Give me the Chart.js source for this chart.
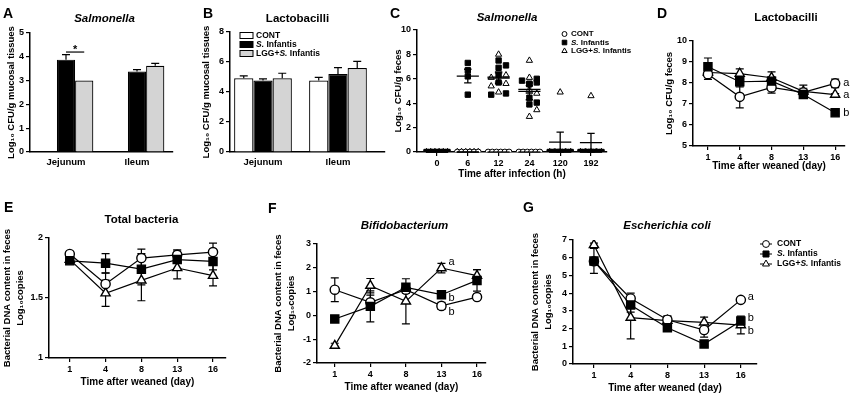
<!DOCTYPE html>
<html>
<head>
<meta charset="utf-8">
<title>LGG and S. Infantis - bacterial counts</title>
<script src="https://cdn.jsdelivr.net/npm/chart.js"></script>
<style>
  body { margin: 0; background: #fff; }
  #fig { position: relative; width: 853px; height: 396px; overflow: hidden; background: #fff; }
  #fig canvas { position: absolute; }
  .tag { position: absolute; font: bold 14px 'Liberation Sans', Arial, sans-serif; line-height: 14px; color: #000; }
</style>
</head>
<body>
<div id="fig">
  <canvas id="chartA"></canvas>
  <canvas id="chartB"></canvas>
  <canvas id="chartC"></canvas>
  <canvas id="chartD"></canvas>
  <canvas id="chartE"></canvas>
  <canvas id="chartF"></canvas>
  <canvas id="chartG"></canvas>
  <div class="tag" style="left:3px;top:6px">A</div>
  <div class="tag" style="left:203px;top:6px">B</div>
  <div class="tag" style="left:390px;top:6px">C</div>
  <div class="tag" style="left:657px;top:6px">D</div>
  <div class="tag" style="left:4px;top:200px">E</div>
  <div class="tag" style="left:268px;top:201px">F</div>
  <div class="tag" style="left:523px;top:200px">G</div>
</div>
<script>
const FAM = "'Liberation Sans', Arial, Helvetica, sans-serif";

// groups (same order in every panel)
const groupNames = ['CONT', 'S. Infantis', 'LGG+S. Infantis'];
const daysLabels = ['1', '4', '8', '13', '16'];

// A - Salmonella in mucosal tissues (log10 CFU/g)
const sitesLabels = ['Jejunum', 'Ileum'];
const salmContA = [0, 0];
const salmInfA = [3.88, 3.38];
const salmLggA = [3.0, 3.62];
const salmContErrA = [0, 0];
const salmInfErrA = [0.21, 0.08];
const salmLggErrA = [0, 0.1];

// B - Lactobacilli in mucosal tissues
const lactContB = [4.92, 4.76];
const lactInfB = [4.76, 5.2];
const lactLggB = [4.92, 5.6];
const lactContErrB = [0.15, 0.22];
const lactInfErrB = [0.12, 0.43];
const lactLggErrB = [0.33, 0.44];

// C - Salmonella in feces, one value per piglet
const hoursLabels = ['0', '6', '12', '24', '120', '192'];
const salmContC = [
  [0, 0, 0, 0, 0, 0], [0, 0, 0, 0, 0, 0], [0, 0, 0, 0, 0, 0],
  [0, 0, 0, 0, 0, 0], [0, 0, 0, 0, 0, 0], [0, 0, 0, 0, 0, 0]
];
const salmInfC = [
  [0, 0, 0, 0, 0, 0],
  [7.3, 6.7, 6.2, 4.7],
  [7.5, 7.1, 6.9, 6.3, 5.7, 4.8, 4.7],
  [6.0, 5.85, 5.7, 5.6, 5.55, 4.45, 4.05, 3.9],
  [0, 0, 0, 0, 0, 0],
  [0, 0, 0, 0, 0, 0]
];
const salmLggC = [
  [0, 0, 0, 0, 0, 0],
  [0, 0, 0, 0, 0, 0],
  [8.0, 6.3, 6.1, 5.6, 5.4, 4.9],
  [7.5, 6.1, 5.1, 4.8, 3.45, 2.9],
  [4.9, 0, 0, 0, 0, 0],
  [4.6, 0, 0, 0, 0, 0]
];

// D - Lactobacilli in feces
const lactContD = [8.42, 7.34, 7.79, 7.55, 7.98];
const lactInfD = [8.77, 8.06, 8.09, 7.45, 6.58];
const lactLggD = [8.5, 8.45, 8.25, 7.6, 7.45];
const lactContErrD = [0.25, 0.52, 0.27, 0.2, 0.2];
const lactInfErrD = [0.42, 0.25, 0.2, 0.15, 0.05];
const lactLggErrD = [0.2, 0.22, 0.28, 0.3, 0.05];
const lettersD = ['a', 'b', 'a'];

// E - total bacteria
const totContE = [1.867, 1.617, 1.833, 1.86, 1.883];
const totInfE = [1.81, 1.79, 1.74, 1.82, 1.805];
const totLggE = [1.82, 1.54, 1.647, 1.75, 1.686];
const totContErrE = [0.02, 0.09, 0.075, 0.04, 0.075];
const totInfErrE = [0.02, 0.08, 0.13, 0.08, 0.07];
const totLggErrE = [0.02, 0.11, 0.17, 0.09, 0.085];

// F - Bifidobacterium
const bifContF = [1.08, 0.55, 1.08, 0.4, 0.77];
const bifInfF = [-0.15, 0.38, 1.18, 0.87, 1.47];
const bifLggF = [-1.27, 1.25, 0.59, 1.99, 1.67];
const bifContErrF = [0.5, 0.3, 0.15, 0.15, 0.1];
const bifInfErrF = [0.1, 0.65, 0.15, 0.1, 0.45];
const bifLggErrF = [0.1, 0.3, 0.95, 0.2, 0.25];
const lettersF = ['b', 'b', 'a'];

// G - Escherichia coli
const coliContG = [5.8, 3.7, 2.5, 1.92, 3.62];
const coliInfG = [5.82, 3.33, 2.05, 1.13, 2.43];
const coliLggG = [6.72, 2.62, 2.45, 2.35, 2.2];
const coliContErrG = [0.2, 0.3, 0.2, 0.4, 0.1];
const coliInfErrG = [0.7, 0.4, 0.2, 0.15, 0.2];
const coliLggErrG = [0.1, 1.2, 0.25, 0.3, 0.5];
const lettersG = ['a', 'b', 'b'];

// ---------- helpers ----------
const xy = vals => vals.map((v, i) => ({x: i, y: v}));
const BAR_FILL = ['#ffffff', '#000000', '#d4d4d4'];
const PT = [
  {style: 'circle', r: 4.6, fill: '#fff', order: 1},
  {style: 'rect', r: 5.7, fill: '#000', order: 0},
  {style: 'triangle', r: 5.3, fill: '#fff', order: 2}
];

function richText(ctx, text, x, y, size) {
  text.split(/(S\.)/).filter(Boolean).forEach(seg => {
    ctx.font = (seg === 'S.' ? 'italic ' : '') + 'bold ' + size + 'px ' + FAM;
    ctx.fillText(seg, x, y);
    x += ctx.measureText(seg).width;
  });
}

// panel title
const panelTitle = {
  id: 'panelTitle',
  afterDraw(chart, args, o) {
    if (!o.text) return;
    const {ctx, chartArea: a} = chart;
    ctx.save();
    ctx.font = (o.italic ? 'italic ' : '') + 'bold 11.5px ' + FAM;
    ctx.fillStyle = '#000';
    ctx.textAlign = 'center';
    ctx.textBaseline = 'middle';
    ctx.fillText(o.text, (a.left + a.right) / 2 + (o.dx || 0), o.y);
    ctx.restore();
  }
};

// legend with italic "S."
const keyBox = {
  id: 'keyBox',
  afterDraw(chart, args, o) {
    if (!o.kind) return;
    const ctx = chart.ctx;
    ctx.save();
    chart.data.datasets.forEach((ds, i) => {
      const y = o.y + i * o.gap;
      ctx.strokeStyle = '#000';
      ctx.lineWidth = 1;
      if (o.kind === 'box') {
        ctx.fillStyle = ds.backgroundColor;
        ctx.fillRect(o.x, y - 3, 13, 6);
        ctx.strokeRect(o.x, y - 3, 13, 6);
      } else {
        if (o.kind === 'line') {
          ctx.beginPath(); ctx.moveTo(o.x - 6, y); ctx.lineTo(o.x + 6, y); ctx.stroke();
        }
        ctx.fillStyle = ds.pointBackgroundColor;
        Chart.helpers.drawPoint(ctx, {pointStyle: ds.pointStyle, radius: ds.pointRadius * o.rScale, borderWidth: 1}, o.x, y);
      }
      ctx.fillStyle = '#000';
      ctx.textAlign = 'left';
      ctx.textBaseline = 'middle';
      richText(ctx, ds.label, o.x + o.textDx, y, o.size);
    });
    ctx.restore();
  }
};

// SEM bars from dataset.err
function drawErr(chart, o) {
  const {ctx} = chart;
  const ys = chart.scales.y;
  ctx.save();
  ctx.strokeStyle = '#000';
  ctx.lineWidth = 1.2;
  chart.data.datasets.forEach((ds, di) => {
    if (!ds.err) return;
    chart.getDatasetMeta(di).data.forEach((el, i) => {
      const v = ds.data[i].y, e = ds.err[i];
      if (!e) return;
      const top = ys.getPixelForValue(v + e);
      const bot = o.up ? el.y : ys.getPixelForValue(v - e);
      ctx.beginPath();
      ctx.moveTo(el.x, top); ctx.lineTo(el.x, bot);
      ctx.moveTo(el.x - 4, top); ctx.lineTo(el.x + 4, top);
      if (!o.up) { ctx.moveTo(el.x - 4, bot); ctx.lineTo(el.x + 4, bot); }
      ctx.stroke();
    });
  });
  ctx.restore();
}
const errorBars = {
  id: 'errorBars',
  beforeDatasetsDraw(chart, args, o) { if (o.on && !o.up) drawErr(chart, o); },
  afterDatasetsDraw(chart, args, o) { if (o.on && o.up) drawErr(chart, o); }
};

// mean +/- SEM for dot plot (C)
const meanLines = {
  id: 'meanLines',
  afterDatasetsDraw(chart, args, o) {
    if (!o.on) return;
    const {ctx} = chart, xs = chart.scales.x, ys = chart.scales.y;
    ctx.save();
    ctx.strokeStyle = '#000';
    ctx.lineWidth = 1.3;
    chart.data.datasets.forEach(ds => {
      if (!ds.groups) return;
      ds.groups.forEach((vals, t) => {
        const n = vals.length;
        const m = vals.reduce((s, v) => s + v, 0) / n;
        const sd = Math.sqrt(vals.reduce((s, v) => s + (v - m) * (v - m), 0) / (n - 1));
        const sem = sd / Math.sqrt(n);
        const ym = ys.getPixelForValue(m), yt = ys.getPixelForValue(m + sem), yb = ys.getPixelForValue(m - sem);
        const xc = xs.getPixelForValue(t);
        ctx.beginPath();
        ctx.moveTo(xs.getPixelForValue(t - 0.36), ym); ctx.lineTo(xs.getPixelForValue(t + 0.36), ym);
        if (sem > 0) {
          const cw = xs.getPixelForValue(t + 0.12) - xc;
          ctx.moveTo(xc, yt); ctx.lineTo(xc, yb);
          ctx.moveTo(xc - cw, yt); ctx.lineTo(xc + cw, yt);
          ctx.moveTo(xc - cw, yb); ctx.lineTo(xc + cw, yb);
        }
        ctx.stroke();
      });
    });
    ctx.restore();
  }
};

// a / b significance letters
const sigLetters = {
  id: 'sigLetters',
  afterDatasetsDraw(chart, args, o) {
    if (o.index === undefined) return;
    const ctx = chart.ctx;
    ctx.save();
    ctx.font = '11px ' + FAM;
    ctx.fillStyle = '#000';
    ctx.textAlign = 'left';
    ctx.textBaseline = 'middle';
    chart.data.datasets.forEach((ds, di) => {
      if (!ds.letter) return;
      const el = chart.getDatasetMeta(di).data[o.index];
      ctx.fillText(ds.letter, el.x + o.dx, el.y + (o.dy ? o.dy[di] : 0));
    });
    ctx.restore();
  }
};

// significance bracket (A)
const bracket = {
  id: 'bracket',
  afterDatasetsDraw(chart, args, o) {
    if (!o.mark) return;
    const ctx = chart.ctx;
    const x1 = chart.getDatasetMeta(o.from).data[o.index].x;
    const x2 = chart.getDatasetMeta(o.to).data[o.index].x;
    const y = chart.scales.y.getPixelForValue(o.value);
    ctx.save();
    ctx.strokeStyle = '#000';
    ctx.lineWidth = 1.2;
    ctx.beginPath(); ctx.moveTo(x1, y); ctx.lineTo(x2, y); ctx.stroke();
    ctx.fillStyle = '#000';
    ctx.font = 'bold 11px ' + FAM;
    ctx.textAlign = 'center';
    ctx.textBaseline = 'alphabetic';
    ctx.fillText(o.mark, (x1 + x2) / 2, y + 1);
    ctx.restore();
  }
};

Chart.register(panelTitle, keyBox, errorBars, meanLines, sigLetters, bracket);

function yAxis(min, max, step, title, pad, lh) {
  return {
    type: 'linear', min: min, max: max,
    ticks: {stepSize: step, color: '#000', font: {family: FAM, size: 9, weight: 'bold'}, padding: 2,
      callback: v => String(v)},
    grid: {drawOnChartArea: false, tickLength: 4, color: '#000', lineWidth: 1.2},
    border: {color: '#000', width: 1.5},
    title: {display: true, text: title, color: '#000',
      font: {family: FAM, size: 9.5, weight: 'bold', lineHeight: lh || 1.35}, padding: {top: pad, bottom: 0}}
  };
}

function xAxis(labels, min, max, opt) {
  return {
    type: 'linear', min: min, max: max, offset: false,
    afterBuildTicks: s => { s.ticks = labels.map((_, i) => ({value: i})); },
    ticks: {autoSkip: false, maxRotation: 0, color: '#000', padding: opt.tickPad || 2,
      font: {family: FAM, size: opt.size || 9, weight: 'bold'}, callback: v => labels[v]},
    grid: {offset: false, drawOnChartArea: false, drawTicks: opt.marks !== false, tickLength: 4, color: '#000', lineWidth: 1.2},
    border: {color: '#000', width: 1.5},
    title: opt.title
      ? {display: true, text: opt.title, color: '#000', font: {family: FAM, size: 10, weight: 'bold', lineHeight: 1.2},
         padding: {top: 0, bottom: opt.titlePad}}
      : {display: false}
  };
}

function barSets(vals, errs) {
  return vals.map((v, g) => ({
    label: groupNames[g], data: xy(v), err: errs[g],
    backgroundColor: BAR_FILL[g], borderColor: '#000', borderWidth: 1.2,
    categoryPercentage: 0.77, barPercentage: 1.0
  }));
}

function lineSets(vals, errs, letters) {
  return vals.map((v, g) => ({
    label: groupNames[g], data: xy(v), err: errs[g],
    borderColor: '#000', borderWidth: 1.2, backgroundColor: PT[g].fill,
    pointStyle: PT[g].style, pointRadius: PT[g].r, pointBackgroundColor: PT[g].fill,
    pointBorderColor: '#000', pointBorderWidth: 1.4, order: PT[g].order,
    letter: letters[g]
  }));
}

// individual points for C: zeros spread along the baseline, others in up to 3 columns
function spreadC(sets) {
  const pts = sets.map(() => []);
  hoursLabels.forEach((_, t) => {
    sets.forEach((g, gi) => {
      const z = g[t].filter(v => v === 0).length;
      for (let k = 0; k < z; k++) pts[gi].push({x: t + (z > 1 ? -0.34 + 0.68 * k / (z - 1) : 0), y: 0});
    });
    const rest = [];
    sets.forEach((g, gi) => g[t].forEach(v => { if (v !== 0) rest.push({gi: gi, v: v}); }));
    rest.sort((a, b) => b.v - a.v);
    const placed = [];
    rest.forEach(p => {
      const slots = [0, 0.24, -0.24];
      let s = slots.find(c => placed.every(q => q.s !== c || Math.abs(q.v - p.v) >= 0.45));
      if (s === undefined) s = slots[placed.length % 3];
      placed.push({s: s, v: p.v});
      pts[p.gi].push({x: t + s, y: p.v});
    });
  });
  return pts;
}

// place a canvas so that its chart area lands on box (page pixels)
function panel(id, box, config) {
  const cv = document.getElementById(id);
  const left = box.l - box.yw, top = box.t - box.th;
  const w = box.r + box.pr - left, h = box.b + box.xh - top;
  cv.width = w; cv.height = h;
  cv.style.left = left + 'px'; cv.style.top = top + 'px';
  cv.style.width = w + 'px'; cv.style.height = h + 'px';
  const o = config.options;
  o.responsive = false;
  o.animation = false;
  o.devicePixelRatio = 1;
  o.layout = {padding: {left: 0, top: box.th, right: box.pr, bottom: 0}};
  o.scales.x.afterFit = s => { s.height = box.xh; };
  o.scales.y.afterFit = s => { s.width = box.yw; };
  o.plugins.legend = {display: false};
  o.plugins.tooltip = {enabled: false};
  o.plugins.panelTitle.y = box.ty - top;
  if (o.plugins.keyBox) { o.plugins.keyBox.x -= left; o.plugins.keyBox.y -= top; }
  return new Chart(cv, config);
}

// ---------- A ----------
panel('chartA', {l: 30, t: 33, r: 173, b: 152, yw: 30, th: 33, xh: 28, pr: 6, ty: 19}, {
  type: 'bar',
  data: {datasets: barSets([salmContA, salmInfA, salmLggA], [salmContErrA, salmInfErrA, salmLggErrA])},
  options: {
    scales: {
      x: xAxis(sitesLabels, -0.507, 1.507, {marks: false, tickPad: 5, size: 9.5}),
      y: yAxis(0, 5, 1, 'Log₁₀ CFU/g mucosal tissues', 4.6)
    },
    plugins: {
      panelTitle: {text: 'Salmonella', italic: true, dx: 3},
      errorBars: {on: true, up: true},
      bracket: {from: 1, to: 2, index: 0, value: 4.2, mark: '*'}
    }
  }
});

// ---------- B ----------
panel('chartB', {l: 230, t: 32, r: 385, b: 152, yw: 30, th: 32, xh: 28, pr: 6, ty: 19}, {
  type: 'bar',
  data: {datasets: barSets([lactContB, lactInfB, lactLggB], [lactContErrB, lactInfErrB, lactLggErrB])},
  options: {
    scales: {
      x: xAxis(sitesLabels, -0.44, 1.627, {marks: false, tickPad: 5, size: 9.5}),
      y: yAxis(0, 8, 2, 'Log₁₀ CFU/g mucosal tissues', 0)
    },
    plugins: {
      panelTitle: {text: 'Lactobacilli', dx: -10},
      errorBars: {on: true, up: true},
      keyBox: {kind: 'box', x: 240, y: 35.5, gap: 9, textDx: 16, size: 8.5}
    }
  }
});

// ---------- C ----------
const ptsC = spreadC([salmContC, salmInfC, salmLggC]);
const groupsC = [salmContC, salmInfC, salmLggC];
const sizeC = [2.9, 3.8, 3.6];
panel('chartC', {l: 417, t: 30, r: 607, b: 152, yw: 26, th: 30, xh: 30, pr: 46, ty: 18}, {
  type: 'scatter',
  data: {
    datasets: ptsC.map((p, g) => ({
      label: groupNames[g], data: p, groups: groupsC[g],
      pointStyle: PT[g].style, pointRadius: sizeC[g], pointBackgroundColor: PT[g].fill,
      backgroundColor: PT[g].fill, pointBorderColor: '#000', pointBorderWidth: 1, order: PT[g].order
    }))
  },
  options: {
    scales: {
      x: xAxis(hoursLabels, -0.65, 5.52, {title: 'Time after infection (h)', titlePad: 2}),
      y: yAxis(0, 10, 2, 'Log₁₀ CFU/g feces', 0.6)
    },
    plugins: {
      panelTitle: {text: 'Salmonella', italic: true, dx: -5},
      meanLines: {on: true},
      keyBox: {kind: 'point', x: 564.5, y: 34, gap: 8.5, textDx: 6.5, size: 8, rScale: 0.85}
    }
  }
});

// ---------- D ----------
panel('chartD', {l: 693, t: 41, r: 845, b: 146, yw: 30, th: 41, xh: 30, pr: 8, ty: 18}, {
  type: 'line',
  data: {datasets: lineSets([lactContD, lactInfD, lactLggD], [lactContErrD, lactInfErrD, lactLggErrD], lettersD)},
  options: {
    scales: {
      x: xAxis(daysLabels, -0.47, 4.31, {title: 'Time after weaned (day)', titlePad: 4}),
      y: yAxis(5, 10, 1, 'Log₁₀ CFU/g feces', 0)
    },
    plugins: {
      panelTitle: {text: 'Lactobacilli', dx: 17},
      errorBars: {on: true},
      sigLetters: {index: 4, dx: 8}
    }
  }
});

// ---------- E ----------
const dnaTitle = ['Bacterial DNA content in feces', 'Log₁₀copies'];
panel('chartE', {l: 49, t: 238, r: 227, b: 358, yw: 49, th: 38, xh: 33, pr: 6, ty: 220}, {
  type: 'line',
  data: {datasets: lineSets([totContE, totInfE, totLggE], [totContErrE, totInfErrE, totLggErrE], ['', '', ''])},
  options: {
    scales: {
      x: xAxis(daysLabels, -0.58, 4.36, {title: 'Time after weaned (day)', titlePad: 3}),
      y: yAxis(1, 2, 0.5, dnaTitle, 0, 1.45)
    },
    plugins: {
      panelTitle: {text: 'Total bacteria', dx: 4},
      errorBars: {on: true}
    }
  }
});

// ---------- F ----------
panel('chartF', {l: 317, t: 244, r: 487, b: 363, yw: 46, th: 44, xh: 32, pr: 6, ty: 226}, {
  type: 'line',
  data: {datasets: lineSets([bifContF, bifInfF, bifLggF], [bifContErrF, bifInfErrF, bifLggErrF], lettersF)},
  options: {
    scales: {
      x: xAxis(daysLabels, -0.5, 4.25, {title: 'Time after weaned (day)', titlePad: 2}),
      y: yAxis(-2, 3, 1, dnaTitle, 0, 1.45)
    },
    plugins: {
      panelTitle: {text: 'Bifidobacterium', italic: true, dx: 3},
      errorBars: {on: true},
      sigLetters: {index: 3, dx: 7, dy: [6, 3, -6]}
    }
  }
});

// ---------- G ----------
panel('chartG', {l: 573, t: 240, r: 757, b: 364, yw: 45, th: 40, xh: 32, pr: 96, ty: 226}, {
  type: 'line',
  data: {datasets: lineSets([coliContG, coliInfG, coliLggG], [coliContErrG, coliInfErrG, coliLggErrG], lettersG)},
  options: {
    scales: {
      x: xAxis(daysLabels, -0.57, 4.44, {title: 'Time after weaned (day)', titlePad: 2}),
      y: yAxis(0, 7, 1, dnaTitle, 0, 1.45)
    },
    plugins: {
      panelTitle: {text: 'Escherichia coli', italic: true, dx: 2},
      errorBars: {on: true},
      sigLetters: {index: 4, dx: 7, dy: [-3, -3, 6]},
      keyBox: {kind: 'line', x: 766, y: 244, gap: 10, textDx: 11, size: 8.5, rScale: 0.75}
    }
  }
});
</script>
</body>
</html>
